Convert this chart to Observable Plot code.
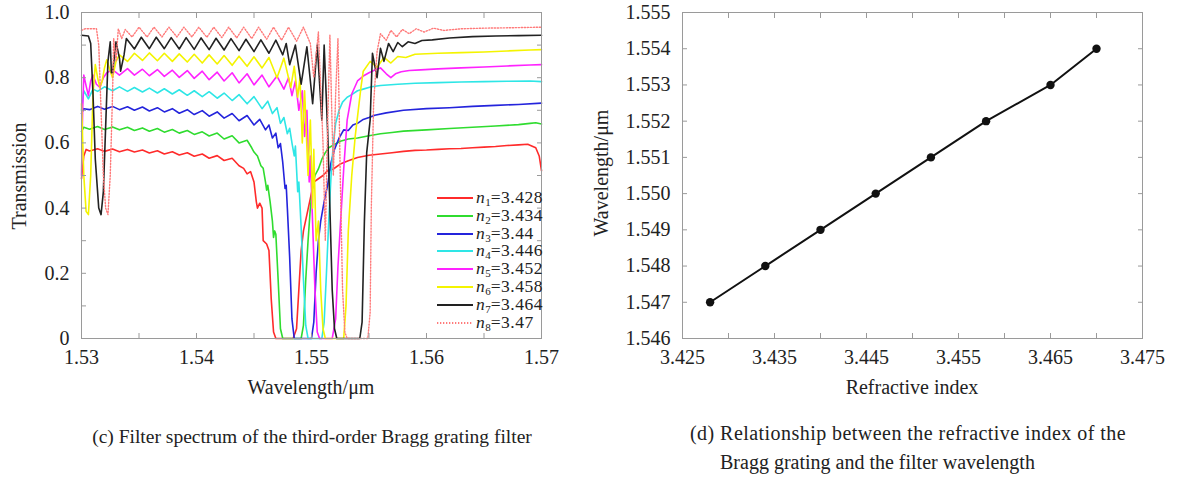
<!DOCTYPE html>
<html><head><meta charset="utf-8">
<script src="https://cdn.jsdelivr.net/npm/d3@7"></script>
<script src="https://cdn.jsdelivr.net/npm/@observablehq/plot@0.6"></script>
<style>
body{margin:0;background:#fff;}
#wrap{position:relative;width:1178px;height:480px;font-family:"Liberation Serif","Times New Roman",serif;color:#222;overflow:hidden;}
#wrap *{font-family:"Liberation Serif","Times New Roman",serif;}
.abs{position:absolute;white-space:nowrap;line-height:1;}
.c{transform:translate(-50%,-50%);}
.rot{transform:translate(-50%,-50%) rotate(-90deg);}
.leg{position:absolute;font-size:17.5px;line-height:17px;white-space:nowrap;letter-spacing:0.5px;}
.leg sub{font-size:11px;vertical-align:-3px;line-height:0;letter-spacing:0;}
#p1,#p2{position:absolute;top:0;}
</style></head><body><div id="wrap"><div id="p1"></div><div id="p2"></div></div>
<script>
// ---------- panel (c): transmission spectra [wavelength um, transmission] ----------
const n1 = [[1.5300,0.49],[1.5302,0.56],[1.5304,0.58],[1.5307,0.575],[1.5314,0.582],[1.5320,0.574],[1.5327,0.581],[1.5333,0.573],[1.5340,0.580],[1.5346,0.572],[1.5353,0.578],[1.5359,0.569],[1.5366,0.576],[1.5372,0.566],[1.5379,0.573],[1.5385,0.563],[1.5392,0.570],[1.5398,0.559],[1.5405,0.566],[1.5411,0.553],[1.5418,0.561],[1.5424,0.546],[1.5431,0.553],[1.5437,0.530],[1.5441,0.522],[1.5444,0.505],[1.5447,0.512],[1.5450,0.480],[1.5452,0.420],[1.5453,0.400],[1.5455,0.415],[1.5457,0.400],[1.5458,0.300],[1.5461,0.290],[1.5463,0.270],[1.5465,0.120],[1.5467,0.020],[1.5469,0],[1.5484,0],[1.5487,0.03],[1.5489,0.15],[1.5491,0.27],[1.5493,0.33],[1.5496,0.38],[1.5499,0.43],[1.5502,0.48],[1.5506,0.49],[1.5510,0.50],[1.5514,0.515],[1.5519,0.52],[1.5525,0.535],[1.5532,0.545],[1.5540,0.555],[1.5550,0.562],[1.5560,0.566],[1.5570,0.570],[1.5580,0.574],[1.5590,0.577],[1.5600,0.578],[1.5610,0.580],[1.5620,0.582],[1.5630,0.583],[1.5640,0.585],[1.5650,0.587],[1.5660,0.589],[1.5670,0.592],[1.5680,0.594],[1.5688,0.596],[1.5692,0.590],[1.5695,0.585],[1.5698,0.560],[1.5700,0.515]];
const n2 = [[1.5300,0.635],[1.5302,0.648],[1.5307,0.642],[1.5314,0.650],[1.5320,0.641],[1.5327,0.649],[1.5333,0.640],[1.5340,0.648],[1.5346,0.638],[1.5353,0.646],[1.5359,0.636],[1.5366,0.644],[1.5372,0.633],[1.5379,0.641],[1.5385,0.630],[1.5392,0.638],[1.5398,0.626],[1.5405,0.634],[1.5411,0.621],[1.5418,0.630],[1.5424,0.612],[1.5431,0.622],[1.5437,0.600],[1.5444,0.608],[1.5448,0.585],[1.5450,0.572],[1.5453,0.560],[1.5456,0.530],[1.5458,0.522],[1.5460,0.480],[1.5461,0.455],[1.5462,0.470],[1.5464,0.420],[1.5466,0.360],[1.5467,0.310],[1.5468,0.330],[1.5469,0.320],[1.5471,0.180],[1.5473,0.030],[1.5475,0],[1.5491,0],[1.5493,0.04],[1.5495,0.18],[1.5497,0.30],[1.5499,0.40],[1.5501,0.47],[1.5503,0.50],[1.5506,0.52],[1.5509,0.55],[1.5512,0.57],[1.5515,0.585],[1.5520,0.595],[1.5525,0.605],[1.5532,0.612],[1.5540,0.615],[1.5550,0.622],[1.5560,0.628],[1.5570,0.632],[1.5580,0.636],[1.5600,0.640],[1.5620,0.644],[1.5640,0.648],[1.5660,0.652],[1.5680,0.656],[1.5690,0.660],[1.5695,0.662],[1.5700,0.658]];
const n3 = [[1.5300,0.690],[1.5302,0.705],[1.5307,0.702],[1.5314,0.712],[1.5320,0.703],[1.5327,0.712],[1.5333,0.702],[1.5340,0.711],[1.5346,0.700],[1.5353,0.710],[1.5359,0.698],[1.5366,0.708],[1.5372,0.695],[1.5379,0.705],[1.5385,0.691],[1.5392,0.702],[1.5398,0.687],[1.5405,0.699],[1.5411,0.682],[1.5418,0.695],[1.5424,0.676],[1.5431,0.690],[1.5437,0.668],[1.5444,0.684],[1.5450,0.655],[1.5455,0.672],[1.5460,0.640],[1.5463,0.655],[1.5466,0.615],[1.5469,0.630],[1.5471,0.585],[1.5473,0.598],[1.5475,0.540],[1.5477,0.460],[1.5478,0.470],[1.5479,0.400],[1.5481,0.250],[1.5483,0.060],[1.5485,0],[1.5500,0],[1.5502,0.05],[1.5504,0.20],[1.5506,0.30],[1.5508,0.36],[1.5511,0.42],[1.5514,0.47],[1.5517,0.54],[1.5520,0.58],[1.5524,0.615],[1.5528,0.640],[1.5532,0.638],[1.5536,0.655],[1.5540,0.660],[1.5545,0.672],[1.5550,0.678],[1.5555,0.685],[1.5565,0.692],[1.5580,0.700],[1.5600,0.705],[1.5620,0.708],[1.5640,0.712],[1.5660,0.715],[1.5680,0.718],[1.5700,0.722]];
const n4 = [[1.5300,0.700],[1.5302,0.760],[1.5306,0.735],[1.5310,0.765],[1.5314,0.758],[1.5320,0.772],[1.5327,0.760],[1.5333,0.772],[1.5340,0.758],[1.5346,0.770],[1.5353,0.756],[1.5359,0.768],[1.5366,0.753],[1.5372,0.766],[1.5379,0.750],[1.5385,0.763],[1.5392,0.746],[1.5398,0.760],[1.5405,0.742],[1.5411,0.757],[1.5418,0.737],[1.5424,0.753],[1.5431,0.730],[1.5437,0.748],[1.5444,0.720],[1.5450,0.742],[1.5457,0.705],[1.5462,0.728],[1.5466,0.690],[1.5470,0.708],[1.5473,0.660],[1.5476,0.678],[1.5479,0.628],[1.5481,0.645],[1.5483,0.600],[1.5485,0.560],[1.5486,0.590],[1.5488,0.450],[1.5489,0.480],[1.5491,0.340],[1.5493,0.180],[1.5495,0.040],[1.5497,0],[1.5509,0],[1.5511,0.05],[1.5513,0.20],[1.5515,0.36],[1.5517,0.50],[1.5519,0.60],[1.5521,0.66],[1.5524,0.70],[1.5527,0.725],[1.5531,0.740],[1.5535,0.748],[1.5540,0.760],[1.5545,0.765],[1.5552,0.772],[1.5560,0.776],[1.5575,0.780],[1.5590,0.783],[1.5610,0.785],[1.5630,0.787],[1.5650,0.788],[1.5670,0.789],[1.5690,0.790],[1.5700,0.788]];
const n5 = [[1.5300,0.500],[1.5301,0.700],[1.5302,0.808],[1.5304,0.775],[1.5306,0.745],[1.5308,0.790],[1.5310,0.808],[1.5313,0.780],[1.5316,0.770],[1.5319,0.800],[1.5322,0.815],[1.5327,0.825],[1.5333,0.808],[1.5340,0.828],[1.5346,0.808],[1.5353,0.826],[1.5359,0.806],[1.5366,0.825],[1.5372,0.804],[1.5379,0.823],[1.5385,0.801],[1.5392,0.822],[1.5398,0.798],[1.5405,0.820],[1.5411,0.794],[1.5418,0.817],[1.5424,0.790],[1.5431,0.815],[1.5437,0.784],[1.5444,0.812],[1.5450,0.778],[1.5457,0.808],[1.5463,0.772],[1.5470,0.805],[1.5476,0.765],[1.5480,0.800],[1.5483,0.745],[1.5486,0.790],[1.5489,0.700],[1.5492,0.760],[1.5494,0.620],[1.5496,0.700],[1.5498,0.480],[1.5499,0.560],[1.5501,0.350],[1.5503,0.150],[1.5505,0.020],[1.5507,0],[1.5518,0],[1.5521,0.06],[1.5523,0.22],[1.5525,0.34],[1.5528,0.52],[1.5531,0.67],[1.5535,0.75],[1.5540,0.790],[1.5545,0.805],[1.5550,0.815],[1.5556,0.825],[1.5560,0.830],[1.5565,0.812],[1.5569,0.800],[1.5573,0.812],[1.5578,0.818],[1.5585,0.822],[1.5595,0.824],[1.5610,0.827],[1.5630,0.830],[1.5650,0.833],[1.5670,0.836],[1.5690,0.839],[1.5700,0.840]];
const n6 = [[1.5300,0.720],[1.5302,0.500],[1.5304,0.390],[1.5306,0.380],[1.5308,0.500],[1.5310,0.750],[1.5312,0.840],[1.5314,0.800],[1.5316,0.770],[1.5318,0.790],[1.5320,0.830],[1.5322,0.855],[1.5325,0.820],[1.5327,0.800],[1.5330,0.850],[1.5333,0.870],[1.5340,0.850],[1.5346,0.875],[1.5353,0.853],[1.5359,0.876],[1.5366,0.852],[1.5372,0.875],[1.5379,0.850],[1.5385,0.873],[1.5392,0.848],[1.5398,0.872],[1.5405,0.845],[1.5411,0.870],[1.5418,0.842],[1.5424,0.868],[1.5431,0.838],[1.5437,0.866],[1.5444,0.835],[1.5450,0.864],[1.5457,0.830],[1.5463,0.862],[1.5470,0.800],[1.5476,0.860],[1.5482,0.770],[1.5485,0.835],[1.5488,0.740],[1.5490,0.800],[1.5492,0.600],[1.5494,0.760],[1.5497,0.500],[1.5499,0.670],[1.5501,0.400],[1.5502,0.580],[1.5504,0.300],[1.5506,0.360],[1.5508,0.150],[1.5510,0.030],[1.5512,0],[1.5528,0],[1.5530,0.10],[1.5532,0.33],[1.5535,0.50],[1.5538,0.62],[1.5540,0.68],[1.5543,0.77],[1.5545,0.82],[1.5551,0.850],[1.5557,0.832],[1.5563,0.862],[1.5569,0.845],[1.5575,0.865],[1.5582,0.862],[1.5590,0.872],[1.5610,0.875],[1.5630,0.877],[1.5650,0.879],[1.5670,0.882],[1.5690,0.885],[1.5700,0.886]];
const n7 = [[1.5300,0.930],[1.5306,0.928],[1.5308,0.905],[1.5310,0.750],[1.5312,0.550],[1.5315,0.400],[1.5317,0.380],[1.5319,0.450],[1.5321,0.650],[1.5323,0.850],[1.5325,0.910],[1.5326,0.815],[1.5327,0.815],[1.5330,0.910],[1.5333,0.860],[1.5334,0.820],[1.5337,0.870],[1.5339,0.920],[1.5346,0.888],[1.5352,0.924],[1.5359,0.889],[1.5365,0.924],[1.5372,0.889],[1.5378,0.923],[1.5385,0.888],[1.5391,0.923],[1.5398,0.887],[1.5404,0.922],[1.5411,0.886],[1.5417,0.921],[1.5424,0.885],[1.5430,0.920],[1.5437,0.883],[1.5443,0.918],[1.5450,0.880],[1.5456,0.916],[1.5463,0.875],[1.5469,0.915],[1.5475,0.870],[1.5478,0.905],[1.5481,0.840],[1.5486,0.900],[1.5491,0.780],[1.5496,0.895],[1.5501,0.720],[1.5505,0.900],[1.5509,0.670],[1.5511,0.900],[1.5514,0.640],[1.5516,0.400],[1.5518,0.150],[1.5520,0.030],[1.5522,0],[1.5542,0],[1.5544,0.05],[1.5546,0.36],[1.5548,0.57],[1.5551,0.67],[1.5553,0.875],[1.5557,0.800],[1.5560,0.890],[1.5563,0.850],[1.5567,0.905],[1.5571,0.880],[1.5575,0.908],[1.5579,0.895],[1.5584,0.910],[1.5590,0.905],[1.5596,0.914],[1.5605,0.916],[1.5620,0.922],[1.5640,0.926],[1.5660,0.928],[1.5680,0.929],[1.5700,0.930]];
const n8 = [[1.5300,0.945],[1.5303,0.950],[1.5313,0.950],[1.5315,0.900],[1.5317,0.700],[1.5319,0.500],[1.5321,0.400],[1.5323,0.380],[1.5325,0.500],[1.5327,0.750],[1.5328,0.920],[1.5330,0.850],[1.5332,0.950],[1.5335,0.920],[1.5338,0.948],[1.5344,0.925],[1.5350,0.955],[1.5357,0.925],[1.5363,0.955],[1.5370,0.925],[1.5376,0.955],[1.5383,0.925],[1.5389,0.955],[1.5396,0.925],[1.5402,0.955],[1.5409,0.924],[1.5415,0.955],[1.5422,0.923],[1.5428,0.955],[1.5435,0.922],[1.5441,0.955],[1.5448,0.920],[1.5454,0.955],[1.5461,0.918],[1.5467,0.955],[1.5474,0.915],[1.5480,0.955],[1.5487,0.912],[1.5493,0.955],[1.5499,0.905],[1.5502,0.800],[1.5506,0.940],[1.5510,0.600],[1.5512,0.300],[1.5514,0.650],[1.5516,0.930],[1.5519,0.500],[1.5521,0.750],[1.5523,0.920],[1.5525,0.500],[1.5527,0.150],[1.5529,0.020],[1.5531,0],[1.5549,0],[1.5551,0.08],[1.5552,0.40],[1.5554,0.72],[1.5557,0.88],[1.5560,0.935],[1.5565,0.915],[1.5569,0.945],[1.5574,0.925],[1.5579,0.948],[1.5585,0.935],[1.5591,0.950],[1.5598,0.940],[1.5606,0.952],[1.5615,0.945],[1.5630,0.950],[1.5650,0.952],[1.5670,0.953],[1.5700,0.955]];

const seriesSubs = ["1","2","3","4","5","6","7","8"];
const seriesN = ["3.428","3.434","3.44","3.446","3.452","3.458","3.464","3.47"];
const seriesColors = ["#ff2b2b","#2fdc2f","#2424dc","#2ee6e6","#ff22ff","#f4f400","#222222","#ff7a7a"];
const seriesData = [n1,n2,n3,n4,n5,n6,n7,n8];

const xMajorC = [1.53,1.54,1.55,1.56,1.57];
const xMinorC = [1.53,1.535,1.54,1.545,1.55,1.555,1.56,1.565,1.57];
const yMajorC = [0,0.2,0.4,0.6,0.8,1.0];
const yMinorC = [0,0.1,0.2,0.3,0.4,0.5,0.6,0.7,0.8,0.9,1.0];

// ---------- panel (d): refractive index vs filter wavelength ----------
const refIndex = [3.428,3.434,3.44,3.446,3.452,3.458,3.465,3.47];
const filterWl = [1.547,1.548,1.549,1.550,1.551,1.552,1.553,1.554];
const xMajorD = [3.425,3.435,3.445,3.455,3.465,3.475];
const xMinorD = [3.425,3.43,3.435,3.44,3.445,3.45,3.455,3.46,3.465,3.47,3.475];
const yTicksD = [1.546,1.547,1.548,1.549,1.550,1.551,1.552,1.553,1.554,1.555];

const FRAME = "#9a9a9a";
const font = {fontFamily:'"Liberation Serif","Times New Roman",serif', fontSize:"20px", color:"#222", background:"transparent", overflow:"visible"};

// table for panel (c)
const spec = seriesData.flatMap((arr, k) => arr.map(([w, t]) => ({w, t, k})));

const lineMarks = seriesData.map((arr, k) => Plot.line(spec.filter(d => d.k === k), {
  x: "w", y: "t", stroke: seriesColors[k], strokeWidth: k === 7 ? 1.4 : 1.6,
  strokeDasharray: k === 7 ? "1.3,1.7" : null, curve: "linear"
}));

function inwardAxes(xt, yt) {
  return [
    Plot.axisX({ticks: xt, tickSize: -5, fill: "none", stroke: FRAME, label: null}),
    Plot.axisX({ticks: xt, anchor: "top", tickSize: -5, fill: "none", stroke: FRAME, label: null}),
    Plot.axisY({ticks: yt, tickSize: -5, fill: "none", stroke: FRAME, label: null}),
    Plot.axisY({ticks: yt, anchor: "right", tickSize: -5, fill: "none", stroke: FRAME, label: null})
  ];
}

const chartC = Plot.plot({
  width: 580, height: 400, marginTop: 12, marginLeft: 81, marginRight: 39, marginBottom: 62,
  style: font,
  x: {domain: [1.53, 1.57], label: null},
  y: {domain: [0, 1], label: null},
  marks: [
    ...lineMarks,
    Plot.frame({stroke: FRAME}),
    ...inwardAxes(xMinorC, yMinorC),
    Plot.axisX({ticks: xMajorC, tickSize: 0, tickPadding: 11, tickFormat: d => d.toFixed(2), label: null}),
    Plot.axisY({ticks: yMajorC, tickSize: 0, tickPadding: 12, tickFormat: d => d === 0 ? "0" : d.toFixed(1), label: null})
  ]
});

const pts = refIndex.map((n, i) => ({n, w: filterWl[i]}));
const chartD = Plot.plot({
  width: 578, height: 400, marginTop: 12, marginLeft: 82, marginRight: 36, marginBottom: 62,
  style: font,
  x: {domain: [3.425, 3.475], label: null},
  y: {domain: [1.546, 1.555], label: null},
  marks: [
    Plot.frame({stroke: FRAME}),
    ...inwardAxes(xMinorD, yTicksD),
    Plot.axisX({ticks: xMajorD, tickSize: 0, tickPadding: 11, tickFormat: d => d.toFixed(3), label: null}),
    Plot.axisY({ticks: yTicksD, tickSize: 0, tickPadding: 12, tickFormat: d => d.toFixed(3), label: null}),
    Plot.line(pts, {x: "n", y: "w", stroke: "#111", strokeWidth: 2}),
    Plot.dot(pts, {x: "n", y: "w", r: 4.2, fill: "#111", stroke: "none"})
  ]
});

document.getElementById("p1").appendChild(chartC);
const p2 = document.getElementById("p2");
p2.style.left = "600px";
p2.appendChild(chartD);

const wrap = document.getElementById("wrap");
function addText(html, x, y, cls, size, extra) {
  const d = document.createElement("div");
  d.className = "abs " + cls;
  d.style.left = x + "px"; d.style.top = y + "px"; d.style.fontSize = size + "px";
  if (extra) Object.assign(d.style, extra);
  d.innerHTML = html;
  wrap.appendChild(d);
}
addText("Transmission", 19, 176, "rot", 20);
addText("Wavelength/μm", 311, 387, "c", 20);
addText("(c) Filter spectrum of the third-order Bragg grating filter", 312, 437, "c", 19.5);
addText("Wavelength/μm", 601, 173, "rot", 20);
addText("Refractive index", 912, 387, "c", 20);
addText("(d) Relationship between the refractive index of the", 690, 423, "", 20, {letterSpacing: "0.45px"});
addText("Bragg grating and the filter wavelength", 720, 452, "", 20);

// legend of panel (c)
seriesColors.forEach((c, k) => {
  const top = 189 + k * 17.8;
  const row = document.createElement("div");
  row.className = "leg";
  row.style.left = "437px"; row.style.top = top + "px";
  const dash = k === 7 ? 'stroke-dasharray="1.3,1.7"' : "";
  row.innerHTML = `<svg width="36" height="17" style="vertical-align:top"><line x1="0" x2="36" y1="9" y2="9" stroke="${c}" stroke-width="1.8" ${dash}/></svg><span style="margin-left:3px"><i>n</i><sub>${seriesSubs[k]}</sub>=${seriesN[k]}</span>`;
  wrap.appendChild(row);
});
</script></body></html>
